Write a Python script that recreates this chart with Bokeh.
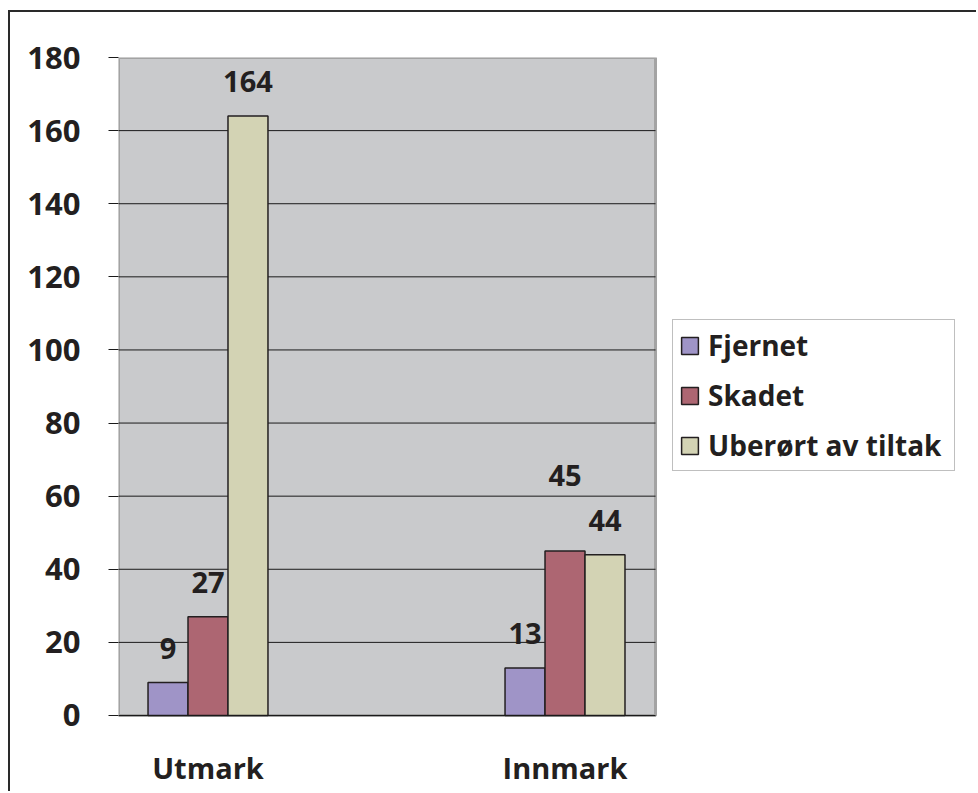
import numpy as np
from bokeh.plotting import figure
from bokeh.models import ColumnDataSource, Range1d, FixedTicker, Legend, LegendItem
from bokeh.core.properties import value
from bokeh.embed import file_html
from bokeh.resources import INLINE

# ---- data ----
categories = ["Utmark", "Innmark"]
series_names = ["Fjernet", "Skadet", "Uberørt av tiltak"]
fjernet = [9, 13]
skadet = [27, 45]
uberort = [164, 44]
y_ticks = [0, 20, 40, 60, 80, 100, 120, 140, 160, 180]

# ---- style / layout ----
colors = ["#9f94c7", "#ad6672", "#d3d3b4"]
FONT = "Open Sans"
TXT = "#231f20"
bar_w = 0.112
x_start, plot_end, x_end = -0.2507, 1.2535, 2.1582   # plot area ends at plot_end; legend lives beyond
y_min, y_max = -0.55, 180
label_lift = [[0, 0], [0, 41], [0, 0]]  # extra pixel lift of data labels (layout)

p = figure(width=968, height=781, output_backend="svg", toolbar_location=None,
           x_range=Range1d(x_start, x_end), y_range=Range1d(y_min, y_max),
           min_border_left=108, min_border_right=0, min_border_top=45, min_border_bottom=76)
p.styles = {"margin-left": "8px", "margin-top": "10px",
            "border-top": "2px solid #2a2a2a", "border-left": "2px solid #2a2a2a"}
p.background_fill_color = "white"
p.border_fill_color = "white"
p.outline_line_color = None
p.grid.visible = False

# plot area
p.quad(left=[x_start], right=[plot_end], bottom=[0], top=[y_ticks[-1]],
       fill_color="#c9cacc", line_color="#a3a3a3", line_width=3)
grid_y = y_ticks[1:-1]
p.segment(x0=[x_start] * len(grid_y), x1=[plot_end] * len(grid_y), y0=grid_y, y1=grid_y,
          line_color="#1a1a1a", line_width=1)

# y axis
p.yaxis.ticker = FixedTicker(ticks=y_ticks)
p.yaxis.axis_line_color = None
p.yaxis.major_tick_out = 10
p.yaxis.major_tick_in = 0
p.yaxis.major_tick_line_color = "#1a1a1a"
p.yaxis.minor_tick_line_color = None
p.yaxis.major_label_standoff = 28
p.yaxis.major_label_text_font = FONT
p.yaxis.major_label_text_font_style = "bold"
p.yaxis.major_label_text_font_size = "31px"
p.yaxis.major_label_text_color = TXT

# x axis
p.xaxis.ticker = FixedTicker(ticks=list(range(len(categories))))
p.xaxis.major_label_overrides = {i: c for i, c in enumerate(categories)}
p.xaxis.axis_line_color = None
p.xaxis.major_tick_out = 0
p.xaxis.major_tick_in = 0
p.xaxis.minor_tick_line_color = None
p.xaxis.major_label_standoff = 30
p.xaxis.major_label_text_font = FONT
p.xaxis.major_label_text_font_style = "bold"
p.xaxis.major_label_text_font_size = "29px"
p.xaxis.major_label_text_color = TXT

items = []
for i, (name, vals) in enumerate(zip(series_names, [fjernet, skadet, uberort])):
    xs = np.arange(len(categories)) + (i - 1) * bar_w
    src = ColumnDataSource(dict(x=xs, top=vals, lab=[str(v) for v in vals],
                                yoff=[-34 - l for l in label_lift[i]]))
    r = p.vbar(x="x", top="top", bottom=0, width=bar_w, source=src,
               fill_color=colors[i], line_color="#231f20", line_width=1.5)
    p.text(x="x", y="top", text="lab", source=src, text_align="center",
           text_baseline="alphabetic", y_offset="yoff",
           text_font=value(FONT), text_font_style="bold", text_font_size="29px",
           text_color=TXT)
    items.append(LegendItem(label=name, renderers=[r]))

# category axis line at zero
p.segment(x0=[x_start], x1=[plot_end], y0=[0], y1=[0], line_color="#1a1a1a", line_width=1.2)

legend = Legend(items=items, location=(554, 246))
legend.label_text_font = FONT
legend.label_text_font_style = "bold"
legend.label_text_font_size = "28px"
legend.label_text_color = TXT
legend.label_width = 240
legend.glyph_width = 21
legend.glyph_height = 21
legend.label_standoff = 8
legend.spacing = 12
legend.padding = 6
legend.margin = 0
legend.border_line_color = "#808080"
legend.border_line_width = 1.5
legend.background_fill_color = "white"
legend.background_fill_alpha = 1
p.add_layout(legend, "center")

open("out.html", "w").write(file_html(p, INLINE))
